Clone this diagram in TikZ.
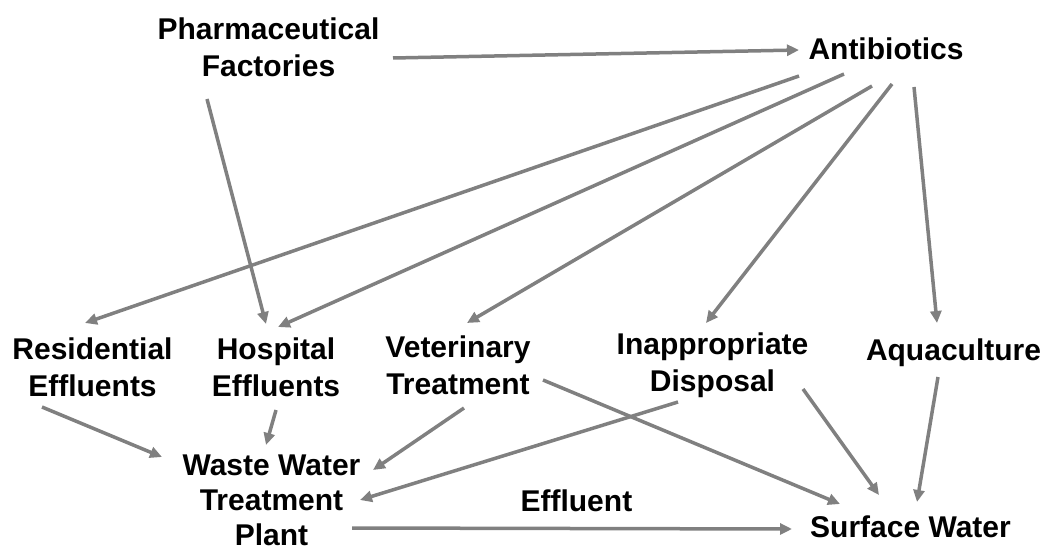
\documentclass[tikz,border=0pt]{standalone}
\usepackage{fontspec}
\setmainfont{Liberation Sans}
\usetikzlibrary{arrows.meta,calc}
\begin{document}
\begin{tikzpicture}[x=1pt, y=-1pt, every node/.style = {inner sep=0pt, align=center, anchor=north,
                        font=\fontsize{30}{36.5}\selectfont\bfseries},
                    flow/.style = {draw=gray, line width=3.5pt, -{Triangle[length=12pt,width=11pt]}}]
        \useasboundingbox (0,0) rectangle (1043,553);
        \node (pharma) at (268.5,18) {Pharmaceutical\\Factories};
        \node (anti)   at (886,38)   {Antibiotics};
        \node (resid)  at (92.5,338) {Residential\\Effluents};
        \node (hosp)   at (276,338)  {Hospital\\Effluents};
        \node (vet)    at (458,336)  {Veterinary\\Treatment};
        \node (inapp)  at (712.5,333) {Inappropriate\\Disposal};
        \node (aqua)   at (953.5,339) {Aquaculture};
        \node[font=\fontsize{30}{35}\selectfont\bfseries] (wwtp) at (271.5,455) {Waste Water\\Treatment\\Plant};
        \node (surf)   at (910.5,516) {Surface Water};
        % sources
        \draw[flow] ($(pharma.north)+(124.5,40)$) -- ($(anti.north)+(-87,12)$);
        \draw[flow] ($(pharma.north)+(-61.5,81)$) -- ($(hosp.north)+(-10,-14)$);
        \draw[flow] ($(anti.north)+(-87,38)$) -- ($(resid.north)+(-7.5,-15)$);
        \draw[flow] ($(anti.north)+(-42,36)$) -- ($(hosp.north)+(2,-11)$);
        \draw[flow] ($(anti.north)+(-14,48)$) -- ($(vet.north)+(9,-13)$);
        \draw[flow] ($(anti.north)+(6,46)$) -- ($(inapp.north)+(-6.5,-10)$);
        \draw[flow] ($(anti.north)+(28,49)$) -- ($(aqua.north)+(-16.5,-16)$);
        % to the treatment plant
        \draw[flow] ($(resid.north)+(-50.5,69)$) -- ($(wwtp.north)+(-109.5,2)$);
        \draw[flow] ($(hosp.north)+(0,72)$) -- ($(wwtp.north)+(-5.5,-10)$);
        \draw[flow] ($(vet.north)+(6,72)$) -- ($(wwtp.north)+(101.5,15)$);
        \draw[flow] ($(inapp.north)+(-34.5,69)$) -- ($(wwtp.north)+(88.5,45)$);
        % to surface water
        \draw[flow] ($(vet.north)+(85,44)$) -- ($(surf.north)+(-70.5,-12)$);
        \draw[flow] ($(inapp.north)+(90.5,56)$) -- ($(surf.north)+(-31.5,-21)$);
        \draw[flow] ($(aqua.north)+(-15.5,38)$) -- ($(surf.north)+(6.5,-14)$);
        \draw[flow] ($(wwtp.north)+(80.5,73)$) -- node[pos=0.51, anchor=south, above=15pt] (effl) {Effluent}
            ($(surf.north)+(-118.5,13)$);
    \end{tikzpicture}
\end{document}
